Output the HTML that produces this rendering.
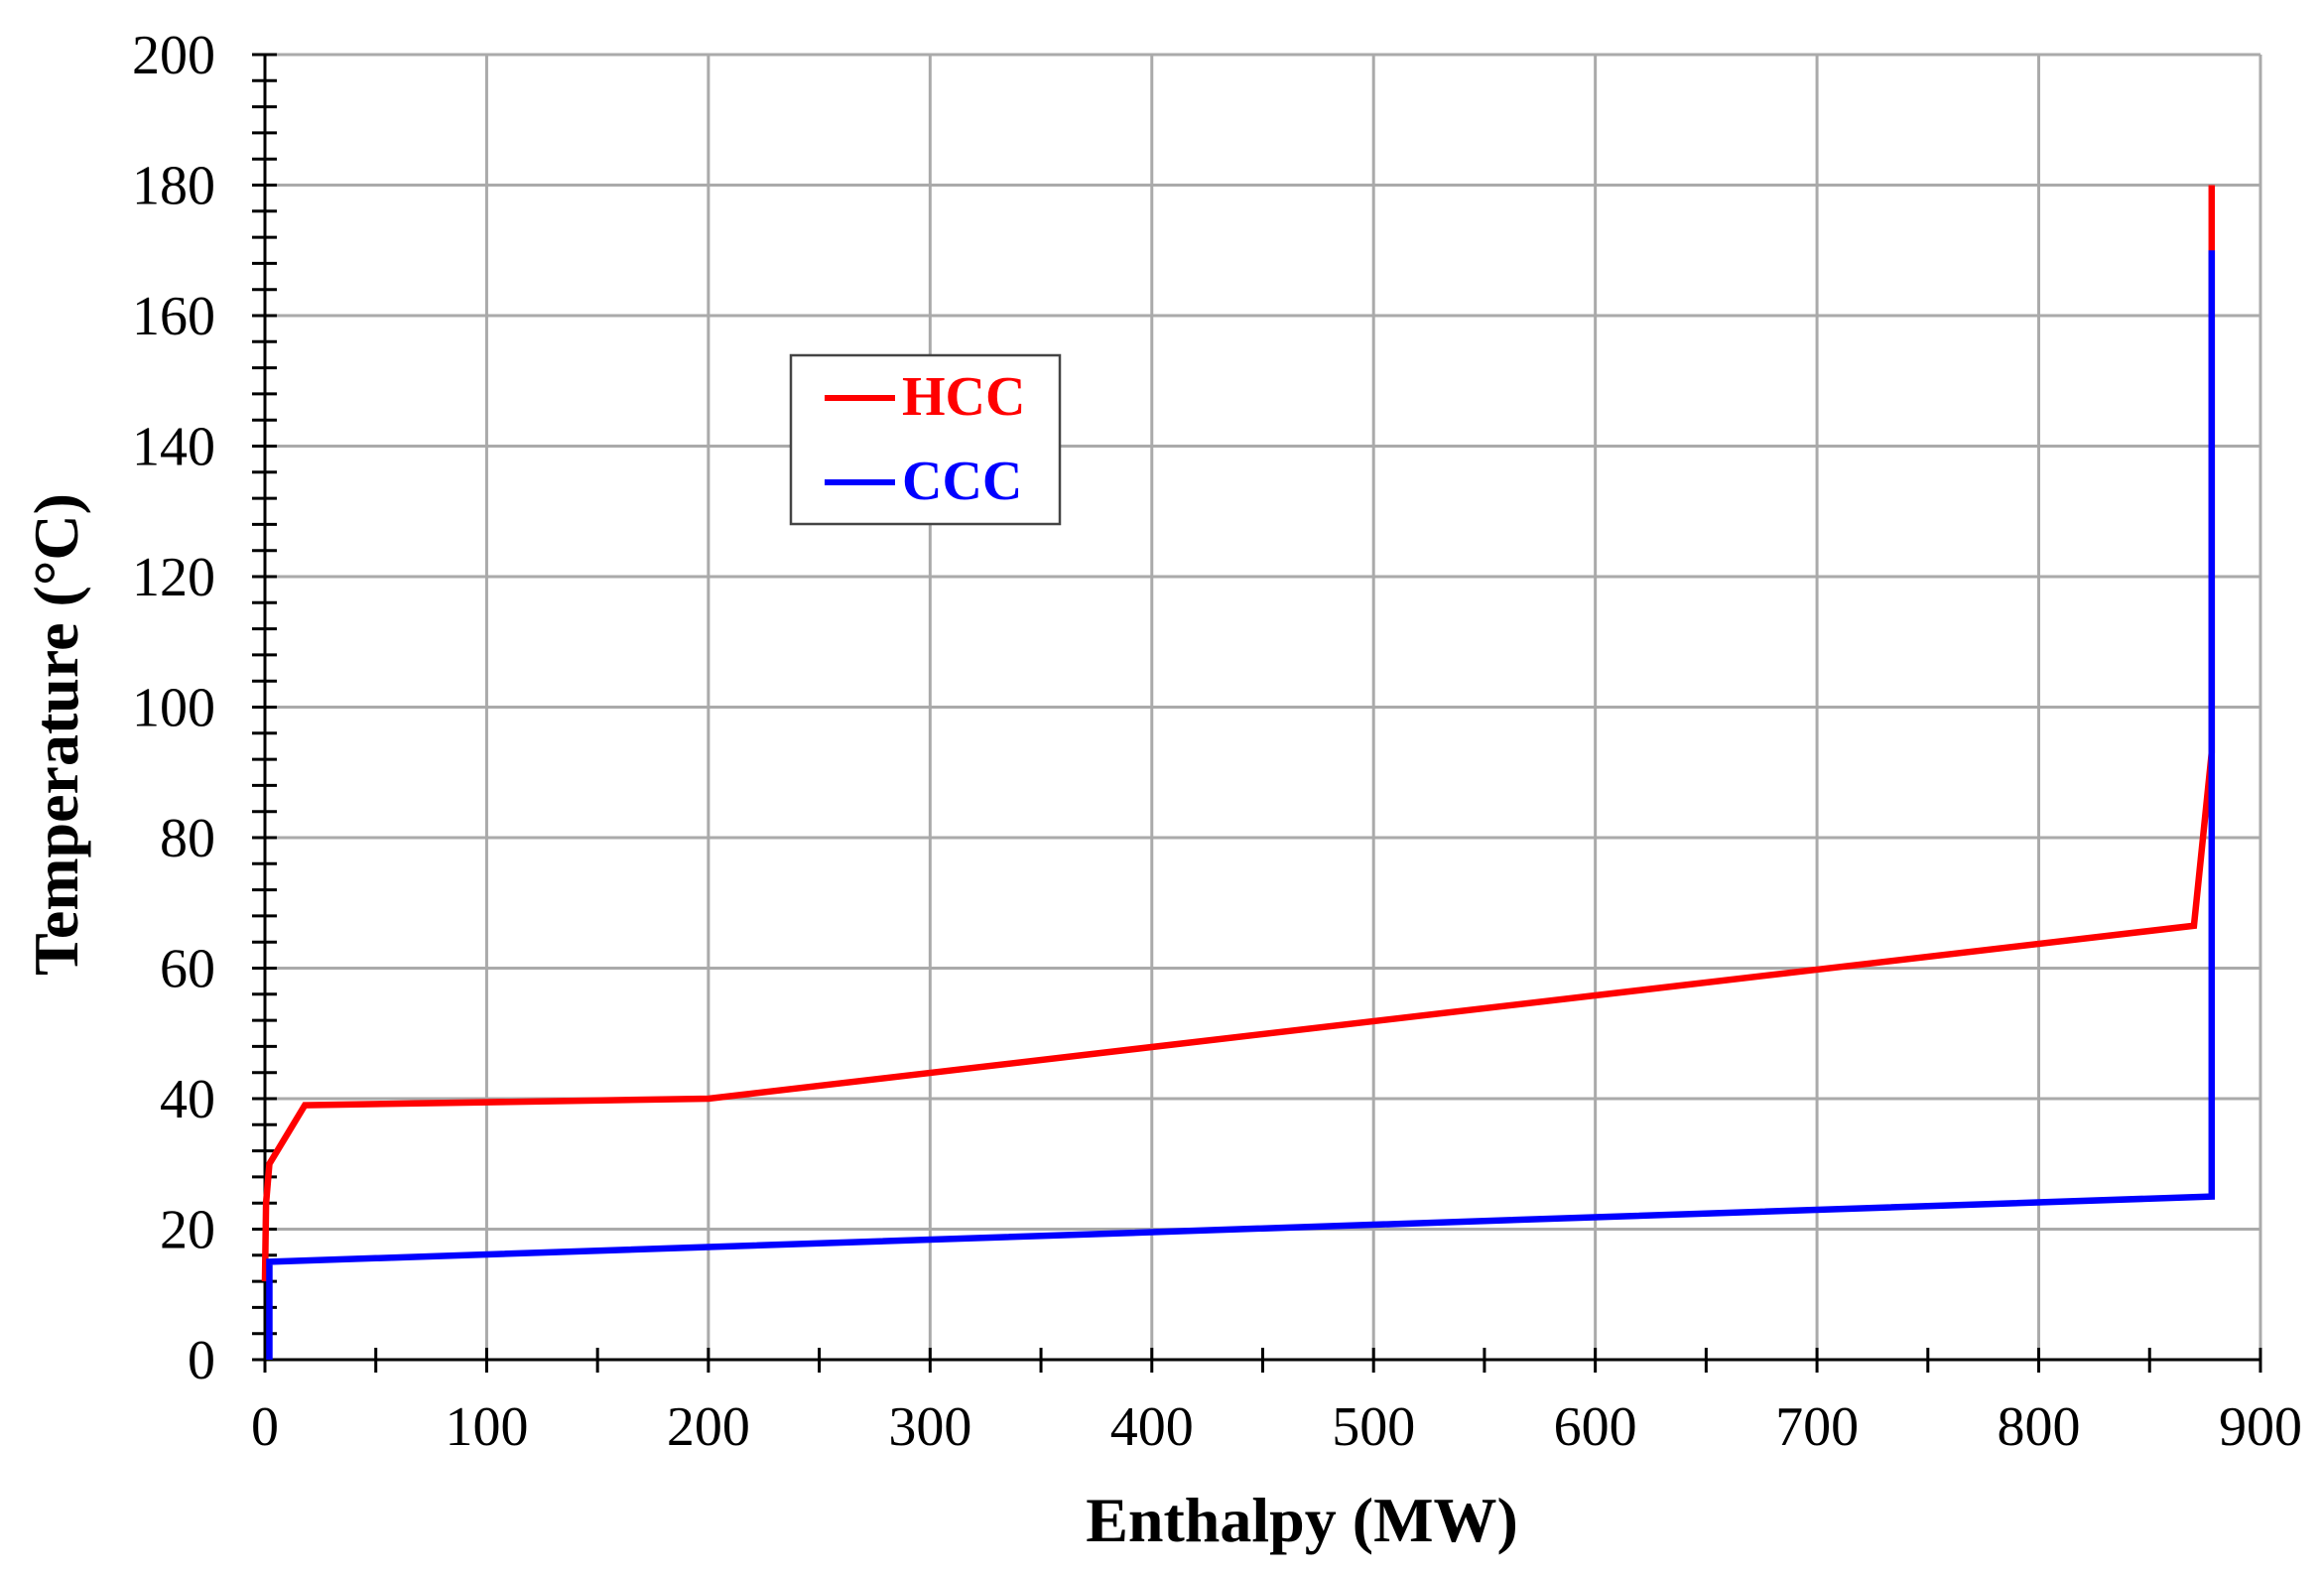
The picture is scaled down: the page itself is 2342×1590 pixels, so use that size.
<!DOCTYPE html>
<html><head><meta charset="utf-8"><style>
html,body{margin:0;padding:0;background:#fff}
svg{display:block}
text{font-family:"Liberation Serif",serif;fill:#000}
</style></head><body>
<svg id="s" width="2342" height="1590" xmlns="http://www.w3.org/2000/svg">
<g id="grid" stroke="#aaa" stroke-width="3"></g>
<g id="ticks" stroke="#000" stroke-width="3"></g>
<g id="labels" font-size="56"></g>
<polyline id="hcc" fill="none" stroke="#ff0000" stroke-width="6.5" stroke-linejoin="miter"/>
<polyline id="ccc" fill="none" stroke="#0000ff" stroke-width="6.5" stroke-linejoin="miter"/>
<rect x="797" y="358" width="271" height="170" fill="#fff" stroke="#444" stroke-width="2.5"/>
<line x1="831" y1="401" x2="902" y2="401" stroke="#ff0000" stroke-width="6"/>
<line x1="831" y1="486" x2="902" y2="486" stroke="#0000ff" stroke-width="6"/>
<text x="909" y="418" font-size="56" font-weight="bold" style="fill:#ff0000">HCC</text>
<text x="909" y="503" font-size="56" font-weight="bold" style="fill:#0000ff">CCC</text>
<text x="1312" y="1553" font-size="64" font-weight="bold" text-anchor="middle">Enthalpy (MW)</text>
<text transform="translate(78,740) rotate(-90)" font-size="64" font-weight="bold" text-anchor="middle">Temperature (°C)</text>
</svg>
<script>
const X=v=>267+v*2.2344, Y=t=>1370-t*6.575;
const ns="http://www.w3.org/2000/svg";
function el(p,tag,a,txt){const e=document.createElementNS(ns,tag);for(const k in a)e.setAttribute(k,a[k]);if(txt!==undefined)e.textContent=txt;document.getElementById(p).appendChild(e);}
for(let v=100;v<=900;v+=100)el("grid","line",{x1:X(v),y1:Y(0),x2:X(v),y2:Y(200)});
for(let t=20;t<=200;t+=20)el("grid","line",{x1:X(0),y1:Y(t),x2:X(900),y2:Y(t)});
el("ticks","line",{x1:X(0),y1:Y(0),x2:X(0),y2:Y(200)});
el("ticks","line",{x1:X(0),y1:Y(0),x2:X(900),y2:Y(0)});
for(let t=0;t<=200;t+=4){el("ticks","line",{x1:X(0)-13,y1:Y(t),x2:X(0)+12,y2:Y(t)});}
for(let v=0;v<=900;v+=50){el("ticks","line",{x1:X(v),y1:Y(0)-12,x2:X(v),y2:Y(0)+13});}
for(let t=0;t<=200;t+=20)el("labels","text",{x:217,y:Y(t)+19,"text-anchor":"end"},String(t));
for(let v=0;v<=900;v+=100)el("labels","text",{x:X(v),y:Y(0)+86,"text-anchor":"middle"},String(v));
const pts=a=>a.map(p=>X(p[0])+","+Y(p[1])).join(" ");
document.getElementById("hcc").setAttribute("points",pts([[0,12],[0.5,24],[2,30],[18,39],[200,40],[870,66.5],[878,93],[878,180]]));
document.getElementById("ccc").setAttribute("points",pts([[2,0],[2,15],[878,25],[878,170]]));
</script>
</body></html>
